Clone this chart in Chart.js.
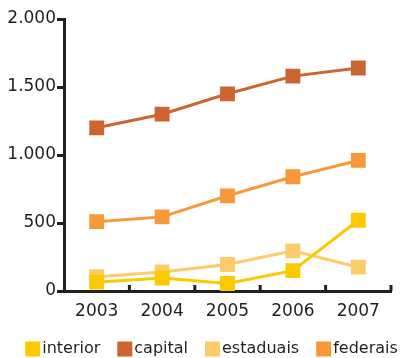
<!DOCTYPE html>
<html>
<head>
<meta charset="utf-8">
<script src="https://cdn.jsdelivr.net/npm/chart.js@4"></script>
<style>
  html, body { margin: 0; padding: 0; background: #fff; }
  #wrap { width: 417px; height: 358px; }
</style>
</head>
<body>
<div id="wrap"><canvas id="chart-data"></canvas></div>
<script>
// Data
const years = ['2003', '2004', '2005', '2006', '2007'];
const interior = [65, 95, 55, 150, 520];
const capital = [1200, 1300, 1450, 1580, 1640];
const estaduais = [105, 140, 195, 295, 175];
const federais = [510, 545, 700, 840, 960];

const textColor = '#231f20';
const fontFamily = '"DejaVu Sans", Verdana, sans-serif';

function makeSet(label, data, color) {
    return {
        label: label,
        data: data,
        borderColor: color,
        backgroundColor: color,
        borderWidth: 3,
        pointStyle: 'rect',
        pointRadius: 10.5,
        pointHoverRadius: 10.5,
        pointBorderWidth: 0,
        tension: 0
    };
}

// Short inward ticks on the x axis, between the categories
const xTicksPlugin = {
    id: 'xTicks',
    afterDraw(chart) {
        const x = chart.scales.x;
        const ctx = chart.ctx;
        const half = (x.getPixelForValue(1) - x.getPixelForValue(0)) / 2;
        ctx.save();
        ctx.strokeStyle = textColor;
        ctx.lineWidth = 3;
        for (let i = 0; i < years.length; i++) {
            const px = x.getPixelForValue(i) + half;
            ctx.beginPath();
            ctx.moveTo(px, x.top);
            ctx.lineTo(px, x.top - 6);
            ctx.stroke();
        }
        ctx.restore();
    }
};

// Compact legend on one row: square, tiny gap, label
const legendPlugin = {
    id: 'rowLegend',
    afterDraw(chart) {
        const ctx = chart.ctx;
        const sets = chart.data.datasets;
        const box = 15, gap = 2, spacing = 17, cy = 349;
        ctx.save();
        ctx.font = '16px ' + fontFamily;
        const widths = sets.map(s => box + gap + ctx.measureText(s.label).width);
        const total = widths.reduce((a, b) => a + b, 0) + spacing * (sets.length - 1);
        let x = (chart.width - total) / 2 + 3;
        sets.forEach((s, i) => {
            ctx.fillStyle = s.backgroundColor;
            ctx.fillRect(x, cy - box / 2, box, box);
            ctx.fillStyle = textColor;
            ctx.textBaseline = 'middle';
            ctx.textAlign = 'left';
            ctx.fillText(s.label, x + box + gap, cy);
            x += widths[i] + spacing;
        });
        ctx.restore();
    }
};

document.addEventListener('DOMContentLoaded', function() {
    new Chart(document.getElementById('chart-data'), {
        type: 'line',
        data: {
            labels: years,
            datasets: [
                makeSet('interior', interior, '#fbc900'),
                makeSet('capital', capital, '#cd6532'),
                makeSet('estaduais', estaduais, '#fdcb6a'),
                makeSet('federais', federais, '#f7993a')
            ]
        },
        options: {
            responsive: true,
            maintainAspectRatio: false,
            animation: false,
            layout: { padding: { top: 19, right: 26, left: 0, bottom: 0 } },
            plugins: {
                tooltip: { enabled: false },
                legend: { display: false }
            },
            scales: {
                x: {
                    offset: true,
                    afterFit(scale) { scale.height = 67; },
                    grid: { display: false, drawTicks: false },
                    border: { display: true, color: textColor, width: 3 },
                    ticks: {
                        color: textColor,
                        padding: 10,
                        font: { family: fontFamily, size: 17 }
                    }
                },
                y: {
                    min: 0,
                    max: 2000,
                    afterFit(scale) { scale.width = 64; },
                    grid: {
                        drawOnChartArea: false,
                        drawTicks: true,
                        tickLength: 7,
                        tickColor: textColor,
                        tickWidth: 3
                    },
                    border: { display: true, color: textColor, width: 3 },
                    ticks: {
                        stepSize: 500,
                        color: textColor,
                        padding: 1,
                        font: { family: fontFamily, size: 17 },
                        callback: function(v) {
                            return v.toString().replace(/\B(?=(\d{3})+(?!\d))/g, '.');
                        }
                    }
                }
            }
        },
        plugins: [xTicksPlugin, legendPlugin]
    });
});
</script>
</body>
</html>
